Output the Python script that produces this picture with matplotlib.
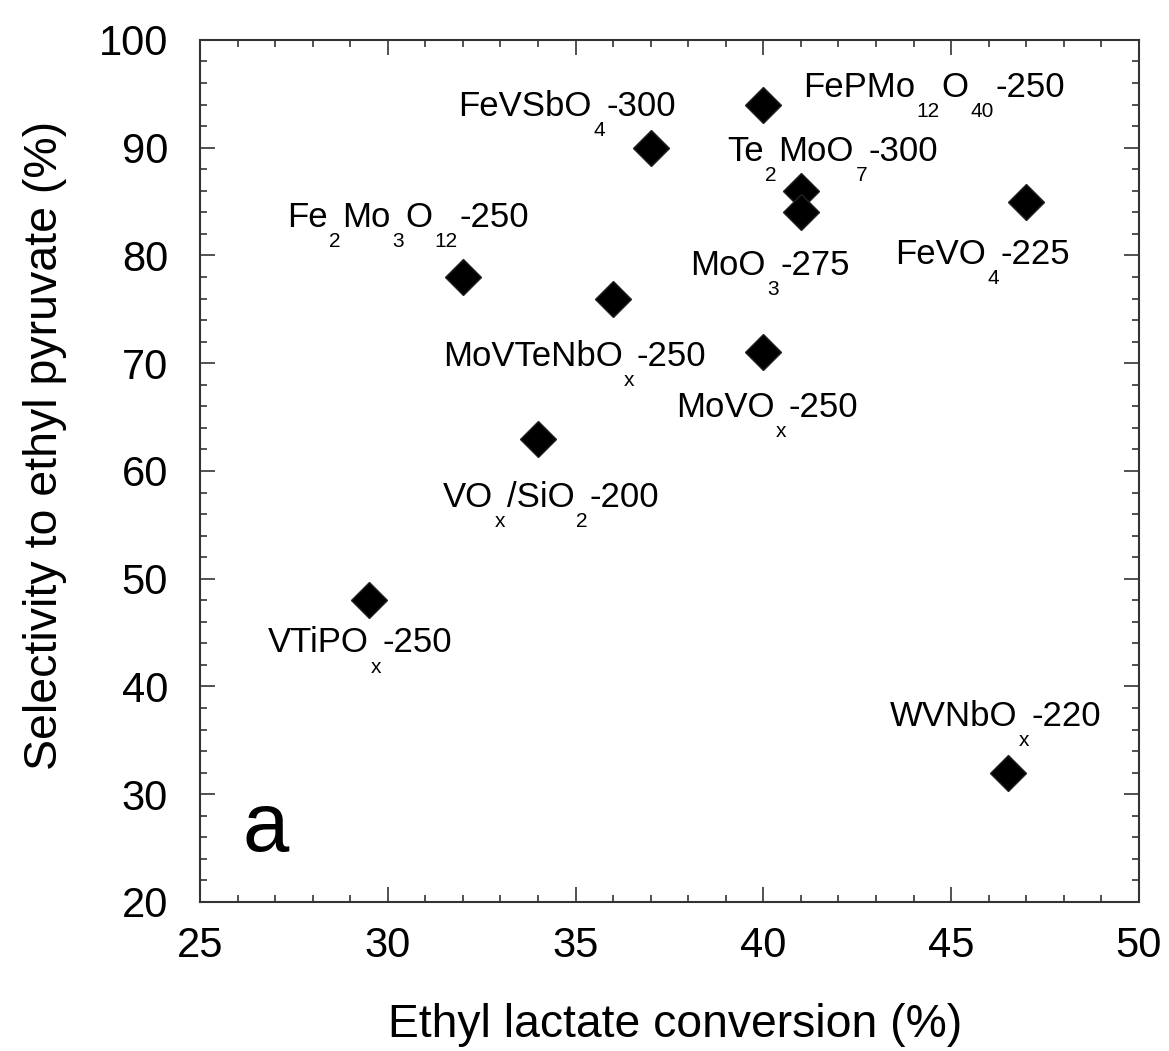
"""Scatter of ethyl pyruvate selectivity vs ethyl lactate conversion (panel a)."""

from __future__ import annotations

import re

import matplotlib

matplotlib.use("Agg")
import matplotlib.pyplot as plt  # noqa: E402
from matplotlib.ticker import MultipleLocator  # noqa: E402

# catalyst data
catalysts = [
    "FePMo_{12}O_{40}-250",
    "FeVSbO_{4}-300",
    "Te_{2}MoO_{7}-300",
    "MoO_{3}-275",
    "FeVO_{4}-225",
    "Fe_{2}Mo_{3}O_{12}-250",
    "MoVTeNbO_{x}-250",
    "MoVO_{x}-250",
    "VO_{x}/SiO_{2}-200",
    "VTiPO_{x}-250",
    "WVNbO_{x}-220",
]
conversion = [40.0, 37.0, 41.0, 41.0, 47.0, 32.0, 36.0, 40.0, 34.0, 29.5, 46.5]
selectivity = [94.0, 90.0, 86.0, 84.0, 85.0, 78.0, 76.0, 71.0, 63.0, 48.0, 32.0]

# label anchor (left, baseline) in data units
label_x = [41.05, 31.87, 39.03, 38.05, 43.5, 27.31, 31.46, 37.67, 31.46, 26.81, 43.37]
label_y = [94.68, 92.95, 88.8, 78.2, 79.2, 82.63, 69.76, 65.0, 56.7, 43.16, 36.36]

LABEL_SIZE = 25
SUB_SCALE = 0.6
SUB_DROP = 0.58  # fraction of LABEL_SIZE
SUB_GAP = 1.2    # points either side of a subscript


def _apply_style() -> None:
    plt.rcParams.update(
        {
            "figure.dpi": 100,
            "savefig.dpi": 100,
            "font.family": ["Liberation Sans", "DejaVu Sans"],
            "figure.facecolor": "white",
            "axes.facecolor": "white",
        }
    )


def _split_formula(s: str) -> list[tuple[str, bool]]:
    parts = []
    pos = 0
    for m in re.finditer(r"_\{([^}]*)\}", s):
        if m.start() > pos:
            parts.append((s[pos:m.start()], False))
        parts.append((m.group(1), True))
        pos = m.end()
    if pos < len(s):
        parts.append((s[pos:], False))
    return parts


def _draw_formula(ax, fig, x: float, y: float, s: str) -> None:
    """Old-style chemical label: small subscripts dropped well below the baseline."""
    renderer = fig.canvas.get_renderer()
    dx = 0.0
    for txt, sub in _split_formula(s):
        if sub:
            dx += SUB_GAP
            fs, dy = LABEL_SIZE * SUB_SCALE, -SUB_DROP * LABEL_SIZE
        else:
            fs, dy = LABEL_SIZE, 0.0
        t = ax.annotate(txt, (x, y), xytext=(dx, dy), textcoords="offset points",
                        fontsize=fs, ha="left", va="baseline")
        dx += t.get_window_extent(renderer).width * 72.0 / fig.dpi
        if sub:
            dx += SUB_GAP


def main() -> None:
    _apply_style()
    fig = plt.figure(figsize=(11.69, 10.51))
    ax = fig.add_axes([0.1711, 0.1418, 0.8032, 0.8202])

    ax.set_xlim(25, 50)
    ax.set_ylim(20, 100)

    ax.plot(conversion, selectivity, linestyle="none", marker="D", markersize=18,
            markerfacecolor="black", markeredgecolor="#222222", markeredgewidth=1.0)

    for name, lx, ly in zip(catalysts, label_x, label_y):
        _draw_formula(ax, fig, lx, ly, name)

    ax.text(26.14, 24.77, "a", ha="left", va="baseline", fontsize=60)

    ax.xaxis.set_major_locator(MultipleLocator(5))
    ax.xaxis.set_minor_locator(MultipleLocator(1))
    ax.yaxis.set_major_locator(MultipleLocator(10))
    ax.yaxis.set_minor_locator(MultipleLocator(2))

    for s in ax.spines.values():
        s.set_linewidth(1.5)
        s.set_color("#333333")
    ax.tick_params(which="both", direction="in", top=True, right=True,
                   color="#333333", width=1.2)
    ax.tick_params(which="major", length=11, labelsize=30)
    ax.tick_params(which="minor", length=5)
    ax.tick_params(axis="x", which="major", pad=17)
    ax.tick_params(axis="y", which="major", pad=23)

    fig.text(0.5774, 0.0133, "Ethyl lactate conversion (%)", fontsize=33.3,
             ha="center", va="baseline")
    fig.text(0.0488, 0.5766, "Selectivity to ethyl pyruvate (%)", fontsize=33.5,
             rotation=90, rotation_mode="anchor", ha="center", va="baseline")

    fig.savefig("out.png", dpi=100)
    plt.close(fig)


if __name__ == "__main__":
    main()
